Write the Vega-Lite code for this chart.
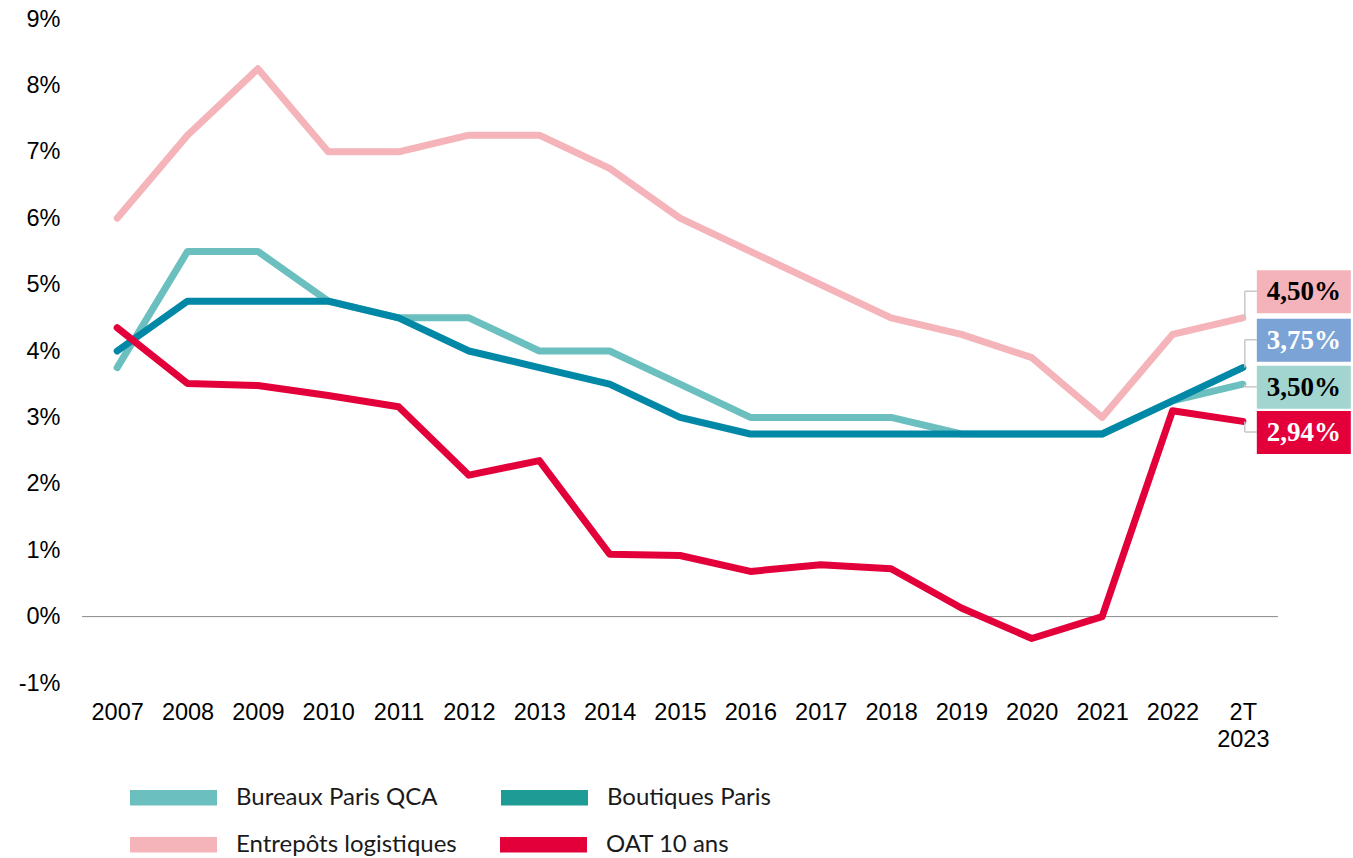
{
  "$schema": "https://vega.github.io/schema/vega-lite/v6.json",
  "autosize": {"type": "none"},
  "width": 1196,
  "height": 664,
  "padding": {"left": 82, "top": 19, "right": 75, "bottom": 175},
  "background": "white",
  "config": {"view": {"stroke": null}},
  "datasets": {
    "series": [
      {"annee": "2007", "serie": "Entrepôts logistiques", "valeur": 6.0},
      {"annee": "2008", "serie": "Entrepôts logistiques", "valeur": 7.25},
      {"annee": "2009", "serie": "Entrepôts logistiques", "valeur": 8.25},
      {"annee": "2010", "serie": "Entrepôts logistiques", "valeur": 7.0},
      {"annee": "2011", "serie": "Entrepôts logistiques", "valeur": 7.0},
      {"annee": "2012", "serie": "Entrepôts logistiques", "valeur": 7.25},
      {"annee": "2013", "serie": "Entrepôts logistiques", "valeur": 7.25},
      {"annee": "2014", "serie": "Entrepôts logistiques", "valeur": 6.75},
      {"annee": "2015", "serie": "Entrepôts logistiques", "valeur": 6.0},
      {"annee": "2016", "serie": "Entrepôts logistiques", "valeur": 5.5},
      {"annee": "2017", "serie": "Entrepôts logistiques", "valeur": 5.0},
      {"annee": "2018", "serie": "Entrepôts logistiques", "valeur": 4.5},
      {"annee": "2019", "serie": "Entrepôts logistiques", "valeur": 4.25},
      {"annee": "2020", "serie": "Entrepôts logistiques", "valeur": 3.9},
      {"annee": "2021", "serie": "Entrepôts logistiques", "valeur": 3.0},
      {"annee": "2022", "serie": "Entrepôts logistiques", "valeur": 4.25},
      {"annee": "2T 2023", "serie": "Entrepôts logistiques", "valeur": 4.5},
      {"annee": "2007", "serie": "Bureaux Paris QCA", "valeur": 3.75},
      {"annee": "2008", "serie": "Bureaux Paris QCA", "valeur": 5.5},
      {"annee": "2009", "serie": "Bureaux Paris QCA", "valeur": 5.5},
      {"annee": "2010", "serie": "Bureaux Paris QCA", "valeur": 4.75},
      {"annee": "2011", "serie": "Bureaux Paris QCA", "valeur": 4.5},
      {"annee": "2012", "serie": "Bureaux Paris QCA", "valeur": 4.5},
      {"annee": "2013", "serie": "Bureaux Paris QCA", "valeur": 4.0},
      {"annee": "2014", "serie": "Bureaux Paris QCA", "valeur": 4.0},
      {"annee": "2015", "serie": "Bureaux Paris QCA", "valeur": 3.5},
      {"annee": "2016", "serie": "Bureaux Paris QCA", "valeur": 3.0},
      {"annee": "2017", "serie": "Bureaux Paris QCA", "valeur": 3.0},
      {"annee": "2018", "serie": "Bureaux Paris QCA", "valeur": 3.0},
      {"annee": "2019", "serie": "Bureaux Paris QCA", "valeur": 2.75},
      {"annee": "2020", "serie": "Bureaux Paris QCA", "valeur": 2.75},
      {"annee": "2021", "serie": "Bureaux Paris QCA", "valeur": 2.75},
      {"annee": "2022", "serie": "Bureaux Paris QCA", "valeur": 3.25},
      {"annee": "2T 2023", "serie": "Bureaux Paris QCA", "valeur": 3.5},
      {"annee": "2007", "serie": "Boutiques Paris", "valeur": 4.0},
      {"annee": "2008", "serie": "Boutiques Paris", "valeur": 4.75},
      {"annee": "2009", "serie": "Boutiques Paris", "valeur": 4.75},
      {"annee": "2010", "serie": "Boutiques Paris", "valeur": 4.75},
      {"annee": "2011", "serie": "Boutiques Paris", "valeur": 4.5},
      {"annee": "2012", "serie": "Boutiques Paris", "valeur": 4.0},
      {"annee": "2013", "serie": "Boutiques Paris", "valeur": 3.75},
      {"annee": "2014", "serie": "Boutiques Paris", "valeur": 3.5},
      {"annee": "2015", "serie": "Boutiques Paris", "valeur": 3.0},
      {"annee": "2016", "serie": "Boutiques Paris", "valeur": 2.75},
      {"annee": "2017", "serie": "Boutiques Paris", "valeur": 2.75},
      {"annee": "2018", "serie": "Boutiques Paris", "valeur": 2.75},
      {"annee": "2019", "serie": "Boutiques Paris", "valeur": 2.75},
      {"annee": "2020", "serie": "Boutiques Paris", "valeur": 2.75},
      {"annee": "2021", "serie": "Boutiques Paris", "valeur": 2.75},
      {"annee": "2022", "serie": "Boutiques Paris", "valeur": 3.25},
      {"annee": "2T 2023", "serie": "Boutiques Paris", "valeur": 3.75},
      {"annee": "2007", "serie": "OAT 10 ans", "valeur": 4.35},
      {"annee": "2008", "serie": "OAT 10 ans", "valeur": 3.51},
      {"annee": "2009", "serie": "OAT 10 ans", "valeur": 3.48},
      {"annee": "2010", "serie": "OAT 10 ans", "valeur": 3.33},
      {"annee": "2011", "serie": "OAT 10 ans", "valeur": 3.16},
      {"annee": "2012", "serie": "OAT 10 ans", "valeur": 2.13},
      {"annee": "2013", "serie": "OAT 10 ans", "valeur": 2.35},
      {"annee": "2014", "serie": "OAT 10 ans", "valeur": 0.94},
      {"annee": "2015", "serie": "OAT 10 ans", "valeur": 0.92},
      {"annee": "2016", "serie": "OAT 10 ans", "valeur": 0.68},
      {"annee": "2017", "serie": "OAT 10 ans", "valeur": 0.78},
      {"annee": "2018", "serie": "OAT 10 ans", "valeur": 0.72},
      {"annee": "2019", "serie": "OAT 10 ans", "valeur": 0.13},
      {"annee": "2020", "serie": "OAT 10 ans", "valeur": -0.33},
      {"annee": "2021", "serie": "OAT 10 ans", "valeur": 0.0},
      {"annee": "2022", "serie": "OAT 10 ans", "valeur": 3.1},
      {"annee": "2T 2023", "serie": "OAT 10 ans", "valeur": 2.94}
    ],
    "etiquettes": [
      {"annee": "2T 2023", "serie": "Entrepôts logistiques", "valeur": 4.5, "labelY": 4.9, "texte": "4,50%"},
      {"annee": "2T 2023", "serie": "Boutiques Paris", "valeur": 3.75, "labelY": 4.17, "texte": "3,75%"},
      {"annee": "2T 2023", "serie": "Bureaux Paris QCA", "valeur": 3.5, "labelY": 3.46, "texte": "3,50%"},
      {"annee": "2T 2023", "serie": "OAT 10 ans", "valeur": 2.94, "labelY": 2.78, "texte": "2,94%"}
    ]
  },
  "resolve": {"scale": {"color": "independent", "fill": "independent"}},
  "layer": [
    {
      "data": {"values": [{"zero": 0}]},
      "mark": {"type": "rule", "color": "#8a8a8a", "strokeWidth": 1},
      "encoding": {"y": {"field": "zero", "type": "quantitative"}}
    },
    {
      "data": {"name": "series"},
      "transform": [{"filter": "datum.serie == 'Entrepôts logistiques'"}],
      "mark": {"type": "line", "stroke": "#F4B4BA", "strokeWidth": 7, "strokeCap": "round", "strokeJoin": "round"},
      "encoding": {
        "x": {
          "field": "annee", "type": "ordinal", "sort": null,
          "scale": {"type": "point", "padding": 0.5, "domain": ["2007","2008","2009","2010","2011","2012","2013","2014","2015","2016","2017","2018","2019","2020","2021","2022","2T 2023"]},
          "axis": {
            "title": null, "domain": false, "ticks": false, "grid": false,
            "labelAngle": 0, "labelFont": "Liberation Sans", "labelFontSize": 23.5, "labelColor": "#000000",
            "labelPadding": 17, "labelLineHeight": 27,
            "labelExpr": "datum.value == '2T 2023' ? ['2T', '2023'] : datum.value"
          }
        },
        "y": {
          "field": "valeur", "type": "quantitative",
          "scale": {"domain": [-1, 9], "nice": false, "zero": false},
          "axis": {
            "title": null, "domain": false, "ticks": false, "grid": false,
            "values": [-1,0,1,2,3,4,5,6,7,8,9],
            "labelFont": "Liberation Sans", "labelFontSize": 23.5, "labelColor": "#000000",
            "labelPadding": 22, "labelExpr": "datum.value + '%'"
          }
        }
      }
    },
    {
      "data": {"name": "series"},
      "transform": [{"filter": "datum.serie == 'Bureaux Paris QCA'"}],
      "mark": {"type": "line", "stroke": "#6BBFBF", "strokeWidth": 7, "strokeCap": "round", "strokeJoin": "round"},
      "encoding": {
        "x": {"field": "annee", "type": "ordinal", "sort": null},
        "y": {"field": "valeur", "type": "quantitative"}
      }
    },
    {
      "data": {"name": "series"},
      "transform": [{"filter": "datum.serie == 'Boutiques Paris'"}],
      "mark": {"type": "line", "stroke": "#0088A6", "strokeWidth": 7, "strokeCap": "round", "strokeJoin": "round"},
      "encoding": {
        "x": {"field": "annee", "type": "ordinal", "sort": null},
        "y": {"field": "valeur", "type": "quantitative"}
      }
    },
    {
      "data": {"name": "series"},
      "transform": [{"filter": "datum.serie == 'OAT 10 ans'"}],
      "mark": {"type": "line", "stroke": "#E3003A", "strokeWidth": 7, "strokeCap": "round", "strokeJoin": "round"},
      "encoding": {
        "x": {"field": "annee", "type": "ordinal", "sort": null},
        "y": {"field": "valeur", "type": "quantitative"}
      }
    },
    {
      "data": {"name": "series"},
      "transform": [{"filter": "datum.serie == 'Bureaux Paris QCA' || datum.serie == 'Boutiques Paris'"}],
      "mark": {"type": "point", "filled": true, "size": 0, "opacity": 0},
      "encoding": {
        "x": {"field": "annee", "type": "ordinal", "sort": null},
        "y": {"field": "valeur", "type": "quantitative"},
        "fill": {
          "field": "serie", "type": "nominal",
          "scale": {"domain": ["Bureaux Paris QCA", "Boutiques Paris"], "range": ["#6BBFBF", "#1F9B96"]},
          "legend": {
            "orient": "none", "legendX": 48, "legendY": 735, "direction": "horizontal", "title": null,
            "symbolType": "M-1,-0.18L1,-0.18L1,0.18L-1,0.18Z", "symbolSize": 7569, "symbolOpacity": 1, "symbolStrokeWidth": 0,
            "labelFont": "Lato", "labelFontSize": 24, "labelColor": "#1a1a1a", "labelOffset": 19,
            "columnPadding": 63, "labelLimit": 400
          }
        }
      }
    },
    {
      "data": {"name": "series"},
      "transform": [{"filter": "datum.serie == 'Entrepôts logistiques' || datum.serie == 'OAT 10 ans'"}],
      "mark": {"type": "point", "filled": true, "size": 0, "opacity": 0},
      "encoding": {
        "x": {"field": "annee", "type": "ordinal", "sort": null},
        "y": {"field": "valeur", "type": "quantitative"},
        "fill": {
          "field": "serie", "type": "nominal",
          "scale": {"domain": ["Entrepôts logistiques", "OAT 10 ans"], "range": ["#F4B4BA", "#E3003A"]},
          "legend": {
            "orient": "none", "legendX": 48, "legendY": 782, "direction": "horizontal", "title": null,
            "symbolType": "M-1,-0.18L1,-0.18L1,0.18L-1,0.18Z", "symbolSize": 7569, "symbolOpacity": 1, "symbolStrokeWidth": 0,
            "labelFont": "Lato", "labelFontSize": 24, "labelColor": "#1a1a1a", "labelOffset": 19,
            "columnPadding": 43, "labelLimit": 400
          }
        }
      }
    },
    {
      "data": {"name": "etiquettes"},
      "mark": {"type": "rule", "color": "#c8c8c8", "strokeWidth": 1.5, "xOffset": 2},
      "encoding": {
        "x": {"field": "annee", "type": "ordinal", "sort": null},
        "y": {"field": "valeur", "type": "quantitative"},
        "y2": {"field": "labelY"}
      }
    },
    {
      "data": {"name": "etiquettes"},
      "mark": {"type": "rule", "color": "#c8c8c8", "strokeWidth": 1.5, "xOffset": 2, "x2Offset": 14},
      "encoding": {
        "x": {"field": "annee", "type": "ordinal", "sort": null},
        "x2": {"field": "annee"},
        "y": {"field": "labelY", "type": "quantitative"}
      }
    },
    {
      "data": {"name": "etiquettes"},
      "mark": {"type": "rect", "xOffset": 14, "x2Offset": 108, "yOffset": -21, "y2Offset": 22},
      "encoding": {
        "x": {"field": "annee", "type": "ordinal", "sort": null},
        "x2": {"field": "annee"},
        "y": {"field": "labelY", "type": "quantitative"},
        "y2": {"field": "labelY"},
        "color": {
          "field": "serie", "type": "nominal", "legend": null,
          "scale": {"domain": ["Entrepôts logistiques", "Boutiques Paris", "Bureaux Paris QCA", "OAT 10 ans"], "range": ["#F4B3BA", "#7BA3D6", "#A2D5D0", "#E3003A"]}
        }
      }
    },
    {
      "data": {"name": "etiquettes"},
      "mark": {"type": "text", "xOffset": 61, "align": "center", "baseline": "middle", "font": "Liberation Serif", "fontWeight": "bold", "fontSize": 27, "dy": 1},
      "encoding": {
        "x": {"field": "annee", "type": "ordinal", "sort": null},
        "y": {"field": "labelY", "type": "quantitative"},
        "text": {"field": "texte"},
        "color": {
          "field": "serie", "type": "nominal", "legend": null,
          "scale": {"domain": ["Entrepôts logistiques", "Boutiques Paris", "Bureaux Paris QCA", "OAT 10 ans"], "range": ["#000000", "#ffffff", "#000000", "#ffffff"]}
        }
      }
    }
  ]
}
